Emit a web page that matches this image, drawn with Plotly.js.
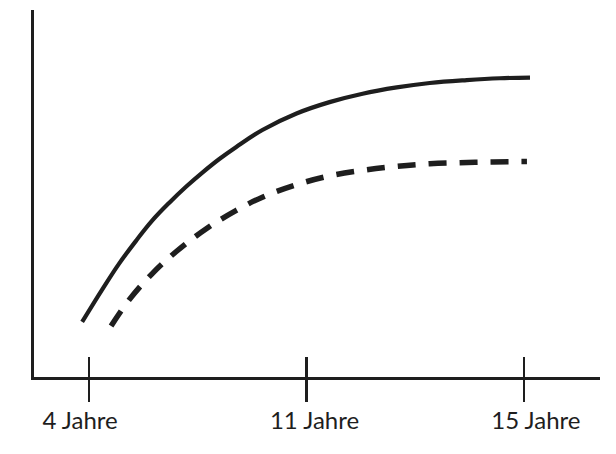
<!DOCTYPE html>
<html>
<head>
<meta charset="utf-8">
<script src="https://cdn.plot.ly/plotly-3.0.1.min.js"></script>
<style>html,body{margin:0;padding:0;background:#fff;}#chart{width:616px;height:454px;}</style>
</head>
<body>
<div id="chart"></div>
<script>
// Schematic axis: position index of each labelled age
const tickPositions = [0, 1, 2];
const tickLabels = ["4 Jahre", "11 Jahre", "15 Jahre"];

// Solid curve
const solidX = [-0.032, 0.060, 0.138, 0.217, 0.290, 0.369, 0.447, 0.521, 0.599, 0.677, 0.797, 0.954, 1.106, 1.258, 1.415, 1.567, 1.737, 1.889, 2.028];
const solidY = [15.0, 23.8, 30.9, 37.2, 42.6, 47.5, 51.9, 55.7, 59.4, 62.7, 67.3, 71.8, 74.9, 77.2, 78.9, 80.1, 80.9, 81.4, 81.6];

// Dashed curve
const dashX = [0.101, 0.184, 0.286, 0.401, 0.539, 0.677, 0.797, 0.954, 1.106, 1.258, 1.415, 1.567, 1.705, 1.857, 2.014];
const dashY = [13.9, 21.0, 27.9, 34.2, 40.4, 45.4, 49.0, 52.4, 54.8, 56.3, 57.4, 58.1, 58.4, 58.6, 58.7];

const ink = "#1e1e1e";
const labelFont = "Lato, 'Open Sans', sans-serif";
const pxPerUnit = 217;              // horizontal scale of the plot
const labelShiftPx = [-9, 8, 12];   // labels sit slightly off their ticks in the original

const traces = [
  {x: solidX, y: solidY, type: "scatter", mode: "lines",
   line: {color: ink, width: 4.2, shape: "spline", smoothing: 1.1}, hoverinfo: "skip"},
  {x: dashX, y: dashY, type: "scatter", mode: "lines",
   line: {color: ink, width: 5.5, shape: "spline", smoothing: 1.1, dash: "18px,13px"}, hoverinfo: "skip"},
  // invisible traces to activate the overlaying axes
  {x: [tickPositions[0]], y: [0], xaxis: "x2", type: "scatter", mode: "markers",
   marker: {opacity: 0}, hoverinfo: "skip"},
  {x: [tickPositions[0]], y: [0], xaxis: "x3", type: "scatter", mode: "markers",
   marker: {opacity: 0}, hoverinfo: "skip"}
];

const xr = [-0.2535, 2.35];
const layout = {
  width: 616, height: 454,
  margin: {l: 34, r: 16, t: 10, b: 77},
  paper_bgcolor: "#ffffff", plot_bgcolor: "#ffffff",
  showlegend: false,
  font: {family: labelFont, color: ink, size: 24},
  xaxis: {
    range: xr, showgrid: false, zeroline: false,
    showline: true, linecolor: ink, linewidth: 3,
    tickmode: "array", tickvals: tickPositions, showticklabels: false,
    ticks: "outside", ticklen: 22, tickwidth: 2.5, tickcolor: ink
  },
  xaxis2: {
    overlaying: "x", matches: "x", range: xr, side: "bottom",
    showgrid: false, zeroline: false, showline: false,
    tickmode: "array", tickvals: tickPositions, showticklabels: false,
    ticks: "inside", ticklen: 20, tickwidth: 2.5, tickcolor: ink
  },
  xaxis3: {
    overlaying: "x", range: xr, side: "bottom",
    showgrid: false, zeroline: false, showline: false,
    tickmode: "array",
    tickvals: tickPositions.map((p, i) => p + labelShiftPx[i] / pxPerUnit),
    ticktext: tickLabels,
    ticks: "outside", ticklen: 22, tickcolor: "rgba(0,0,0,0)",
    tickfont: {family: labelFont, size: 24, color: ink}
  },
  yaxis: {
    range: [0, 100], showgrid: false, zeroline: false,
    showline: true, linecolor: ink, linewidth: 3,
    showticklabels: false, ticks: ""
  }
};

Plotly.newPlot("chart", traces, layout, {displayModeBar: false, staticPlot: true});
</script>
</body>
</html>
